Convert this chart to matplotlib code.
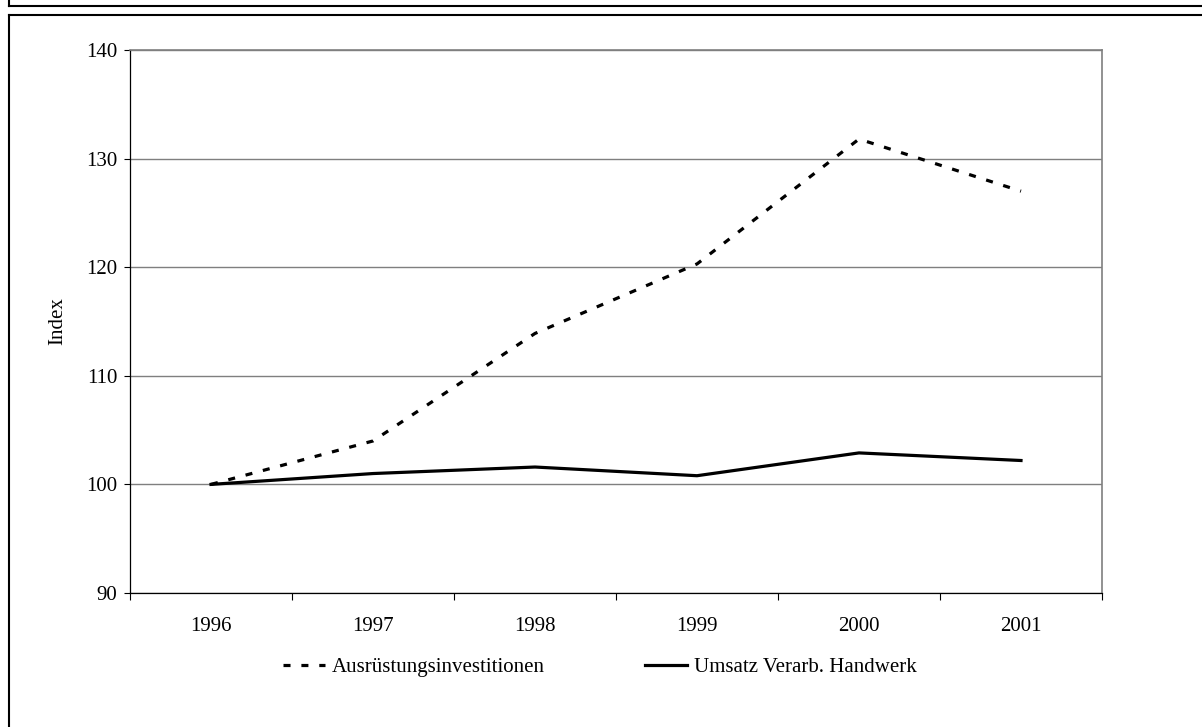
import matplotlib
matplotlib.use("Agg")
import matplotlib.pyplot as plt
from matplotlib.lines import Line2D
import numpy as np

years = ["1996", "1997", "1998", "1999", "2000", "2001"]
ausruestung = [100.0, 104.0, 113.9, 120.3, 131.8, 127.0]
umsatz = [100.0, 101.0, 101.6, 100.8, 102.9, 102.2]
yticks = [90, 100, 110, 120, 130, 140]

plt.rcParams['font.family'] = ['Liberation Serif', 'DejaVu Serif']
FS = 15

W, H = 1202, 727
fig = plt.figure(figsize=(W / 100, H / 100), dpi=100)
ax = fig.add_axes([130 / W, 1 - 593 / H, (1102 - 130) / W, (593 - 50) / H])

x = np.arange(len(years))
ax.plot(x, ausruestung, color='black', lw=2.3, dashes=(2.2, 3.4),
        label='Ausrüstungsinvestitionen', solid_capstyle='butt', dash_capstyle='butt')
ax.plot(x, umsatz, color='black', lw=2.3, label='Umsatz Verarb. Handwerk')

ax.set_xlim(-0.5, len(years) - 0.5)
ax.set_ylim(90, 140)
ax.set_yticks(yticks)
ax.set_yticklabels([str(t) for t in yticks], fontsize=FS)
ax.set_xticks(x)
ax.set_xticklabels(years, fontsize=FS)
ax.set_xticks(np.arange(len(years) + 1) - 0.5, minor=True)
ax.tick_params(axis='x', which='major', length=0, pad=17)
ax.tick_params(axis='x', which='minor', length=5, width=0.8, direction='out', color='black')
ax.tick_params(axis='y', which='major', length=4, width=0.8, direction='out', pad=5)

ax.yaxis.grid(True, color='#7f7f7f', lw=1.0)
ax.set_axisbelow(True)
for s in ['top', 'right']:
    ax.spines[s].set_color('#7f7f7f')
    ax.spines[s].set_linewidth(1.2)
for s in ['left', 'bottom']:
    ax.spines[s].set_color('black')
    ax.spines[s].set_linewidth(0.9)

ax.set_ylabel('Index', fontsize=FS, labelpad=14)

leg = fig.legend(loc='center', bbox_to_anchor=(600 / W, 1 - 667 / H), ncol=2,
                 frameon=False, fontsize=FS, handlelength=2.0, handletextpad=0.35,
                 columnspacing=4.8, borderpad=0)

# figure frames
def fl(x0, y0, x1, y1):
    fig.add_artist(Line2D([x0 / W, x1 / W], [1 - y0 / H, 1 - y1 / H],
                          color='black', lw=1.5, transform=fig.transFigure))

fl(9, 0, 9, 6)
fl(9, 5.5, W, 5.5)
fl(9, 15, W, 15)
fl(9, 15, 9, H)

fig.savefig('out.png', dpi=100)
